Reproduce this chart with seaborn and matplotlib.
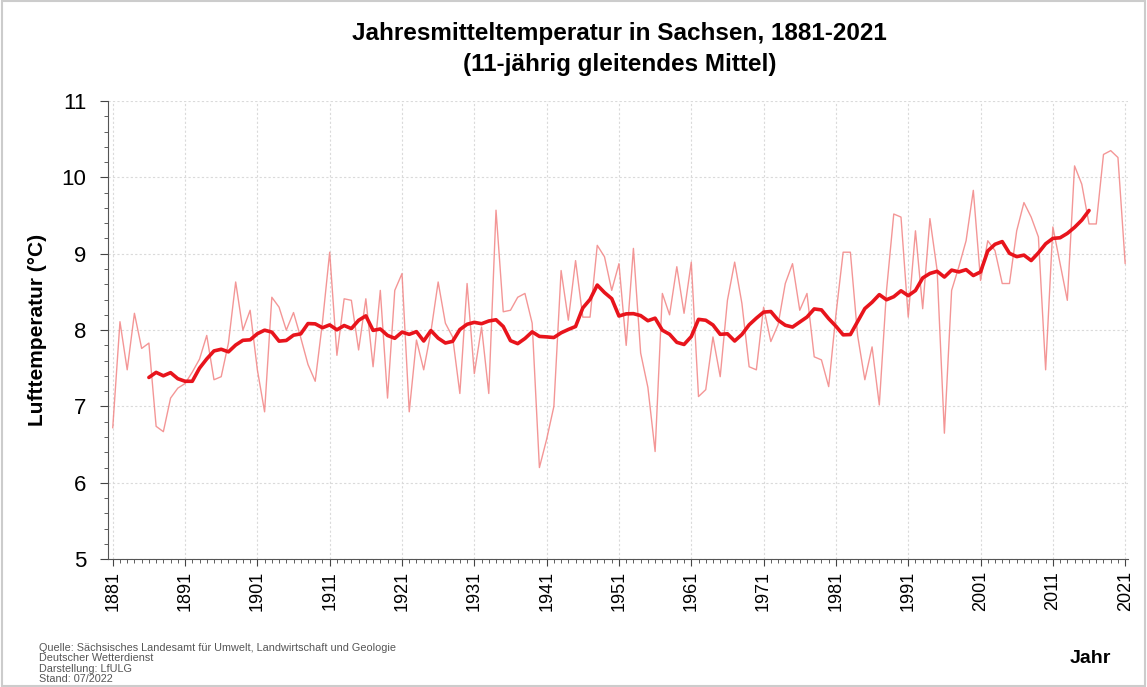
import numpy as np
import pandas as pd
import matplotlib
matplotlib.use("Agg")
import matplotlib.pyplot as plt
from matplotlib.ticker import MultipleLocator
import seaborn as sns

years = list(range(1881, 2022))
temps = [
    6.72, 8.11, 7.48, 8.22, 7.76, 7.83, 6.74, 6.67, 7.11, 7.24,  # 1881-1890
    7.30, 7.45, 7.62, 7.93, 7.35, 7.39, 7.83, 8.63, 8.00, 8.26,  # 1891-1900
    7.48, 6.93, 8.43, 8.30, 8.00, 8.23, 7.90, 7.55, 7.33, 8.10,  # 1901-1910
    9.02, 7.67, 8.41, 8.39, 7.74, 8.41, 7.52, 8.52, 7.11, 8.52,  # 1911-1920
    8.74, 6.93, 7.87, 7.48, 7.98, 8.63, 8.09, 7.91, 7.17, 8.61,  # 1921-1930
    7.43, 8.04, 7.17, 9.57, 8.24, 8.26, 8.43, 8.48, 8.09, 6.20,  # 1931-1940
    6.57, 7.00, 8.78, 8.13, 8.91, 8.17, 8.17, 9.11, 8.96, 8.52,  # 1941-1950
    8.87, 7.80, 9.07, 7.70, 7.25, 6.41, 8.48, 8.20, 8.83, 8.22,  # 1951-1960
    8.89, 7.13, 7.22, 7.91, 7.39, 8.39, 8.89, 8.35, 7.52, 7.48,  # 1961-1970
    8.30, 7.85, 8.07, 8.61, 8.87, 8.26, 8.48, 7.65, 7.61, 7.26,  # 1971-1980
    8.20, 9.02, 9.02, 7.93, 7.35, 7.78, 7.02, 8.52, 9.52, 9.48,  # 1981-1990
    8.17, 9.30, 8.28, 9.46, 8.78, 6.65, 8.52, 8.83, 9.17, 9.83,  # 1991-2000
    8.65, 9.17, 9.04, 8.61, 8.61, 9.30, 9.67, 9.48, 9.22, 7.48,  # 2001-2010
    9.35, 8.87, 8.39, 10.15, 9.91, 9.39, 9.39, 10.30, 10.35, 10.26,  # 2011-2020
    8.87,  # 2021
]
tick_years = list(range(1881, 2022, 10))

title = "Jahresmitteltemperatur in Sachsen, 1881-2021\n(11-jährig gleitendes Mittel)"
ylabel = "Lufttemperatur (°C)"
xlabel = "Jahr"
source = ("Quelle: Sächsisches Landesamt für Umwelt, Landwirtschaft und Geologie\n"
          "Deutscher Wetterdienst\nDarstellung: LfULG\nStand: 07/2022")

df = pd.DataFrame({"Jahr": years, "Temp": temps})
df["Mittel"] = df["Temp"].rolling(11, center=True).mean()

sns.set_style("white")
plt.rcParams["font.family"] = ["Liberation Sans", "DejaVu Sans"]
plt.rcParams["text.color"] = "black"
plt.rcParams["xtick.color"] = "#444444"
plt.rcParams["ytick.color"] = "#444444"
plt.rcParams["xtick.labelcolor"] = "black"
plt.rcParams["ytick.labelcolor"] = "black"
plt.rcParams["axes.labelcolor"] = "black"

fig = plt.figure(figsize=(11.47, 6.87), dpi=100)
ax = fig.add_axes([0.0945, 0.186, 0.889, 0.667])

ax.grid(True, which="major", color="#dadada", linestyle=(0, (2, 2)), linewidth=0.8)
ax.set_axisbelow(True)

sns.lineplot(data=df, x="Jahr", y="Temp", ax=ax, color="#f28484", linewidth=1.0, alpha=0.85)
sns.lineplot(data=df.dropna(), x="Jahr", y="Mittel", ax=ax, color="#e8141c", linewidth=2.6)

ax.set_xlim(1880.4, 2021.4)
ax.set_ylim(5, 11)
ax.set_xticks(tick_years)
ax.set_xticklabels([str(y) for y in tick_years], rotation=90, fontsize=13)
ax.xaxis.set_minor_locator(MultipleLocator(1))
ax.yaxis.set_major_locator(MultipleLocator(1))
ax.yaxis.set_minor_locator(MultipleLocator(0.2))
ax.tick_params(axis="y", labelsize=16, length=6, direction="out", left=True, pad=10)
ax.tick_params(axis="x", length=5, direction="out", bottom=True)
ax.tick_params(which="minor", length=3, left=True, bottom=True)

for s in ["top", "right"]:
    ax.spines[s].set_visible(False)
ax.spines["left"].set_color("#555555")
ax.spines["bottom"].set_color("#555555")

ax.set_xlabel("")
ax.set_ylabel(ylabel, fontsize=15, fontweight="bold", labelpad=10)

fig.text(0.54, 0.968, title, ha="center", va="top", fontsize=17.5, fontweight="bold", linespacing=1.45)
fig.text(0.951, 0.042, xlabel, ha="center", va="center", fontsize=14, fontweight="bold")
fig.text(0.034, 0.004, source, ha="left", va="bottom", fontsize=7.8, color="#555555", linespacing=1.05)

fig.patches.append(plt.Rectangle((0.002, 0.002), 0.996, 0.996, transform=fig.transFigure,
                                 fill=False, edgecolor="#cccccc", linewidth=1.5))

fig.savefig("out.png", dpi=100)
